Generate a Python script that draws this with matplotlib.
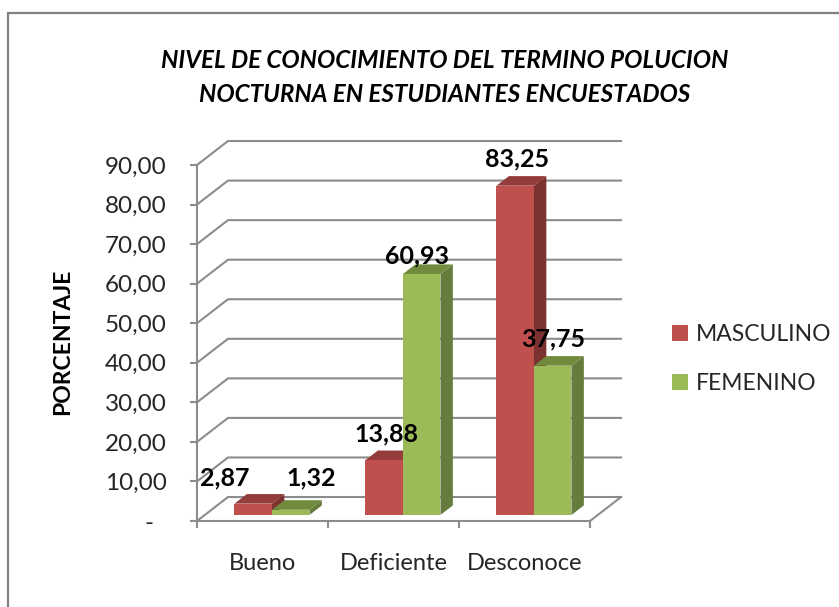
#!/usr/bin/env python3
import matplotlib
matplotlib.use("Agg")
import matplotlib.pyplot as plt
from matplotlib.lines import Line2D
from matplotlib.patches import Polygon, Rectangle

categories = ["Bueno", "Deficiente", "Desconoce"]
masculino = [2.87, 13.88, 83.25]
femenino = [1.32, 60.93, 37.75]
y_ticks = [0, 10, 20, 30, 40, 50, 60, 70, 80, 90]

W, H = 839, 607
GRAY = "#8c8c8c"
RED = ("#c0504d", "#943c3a", "#7b3230")  # front, top, side
GREEN = ("#9bbb59", "#708a3e", "#667c3c")

# depth of the fake 3D box, in data units (31 px right, 24 px up)
DX = 31 / 131
DY = 24 / 3.96
BAR_W = 37.5 / 131
D0, D1 = 0.25, 0.65

plt.rcParams["font.family"] = ["Lato", "DejaVu Sans"]

fig = plt.figure(figsize=(W / 100, H / 100), dpi=100)
ax = fig.add_axes([197 / W, 1 - 521 / H, 393 / W, 356 / H])
ax.set_xlim(0, 3)
ax.set_ylim(0, 90)


def proj(x, y, d):
    return (x + d * DX, y + d * DY)


# chart frame, only top and left edges are inside the picture
fig.add_artist(Line2D([8 / W, 8 / W, 1], [0, 1 - 13 / H, 1 - 13 / H], transform=fig.transFigure,
                      color="#808080", lw=1.6, solid_joinstyle="miter"))

# back wall and side wall grid
for v in y_ticks:
    ax.plot(*zip(proj(0, v, 0), proj(0, v, 1), proj(3, v, 1)), color=GRAY, lw=1.5,
            clip_on=False, zorder=1, solid_joinstyle="miter")
ax.plot(*zip(proj(3, 0, 0), proj(3, 0, 1)), color=GRAY, lw=1.5, clip_on=False, zorder=1)


def bar(x, v, cols):
    # one box: side, top, front
    side = [proj(x + BAR_W, 0, D0), proj(x + BAR_W, 0, D1), proj(x + BAR_W, v, D1), proj(x + BAR_W, v, D0)]
    top = [proj(x, v, D0), proj(x + BAR_W, v, D0), proj(x + BAR_W, v, D1), proj(x, v, D1)]
    front = [proj(x, 0, D0), proj(x + BAR_W, 0, D0), proj(x + BAR_W, v, D0), proj(x, v, D0)]
    for pts, c in ((side, cols[2]), (top, cols[1]), (front, cols[0])):
        ax.add_patch(Polygon(pts, closed=True, fc=c, ec="none", clip_on=False, zorder=2))


for i in range(3):
    left = i + 0.5 - BAR_W + 0.013
    bar(left, masculino[i], RED)
    bar(left + BAR_W, femenino[i], GREEN)

# data labels sit where the original chart had them, offset in pixels from the bar top
label_off = [(-28, 26), (20, 32), (2, 26), (-5, 18), (2, 27), (0, 27)]
vals = [v for pair in zip(masculino, femenino) for v in pair]
for k, v in enumerate(vals):
    i, s = divmod(k, 2)
    xc = i + 0.5 + 0.013 + (s - 0.5) * BAR_W
    ax.annotate("{:.2f}".format(v).replace(".", ","), xy=proj(xc, v, D0),
                xytext=label_off[k], textcoords="offset pixels", ha="center", va="center",
                fontsize=18, fontweight="bold", color="black", zorder=5, annotation_clip=False)

for s in ("top", "right"):
    ax.spines[s].set_visible(False)
for s in ("left", "bottom"):
    ax.spines[s].set_color(GRAY)
    ax.spines[s].set_linewidth(1.5)
    ax.spines[s].set_zorder(3)

ax.set_yticks(y_ticks)
ax.set_yticklabels(["-  " if v == 0 else "{:.2f}".format(v).replace(".", ",") for v in y_ticks],
                   fontsize=17.5, color="#262626")
ax.tick_params(axis="y", length=5, width=1.5, color=GRAY, pad=17)
ax.set_xticks([0, 1, 2, 3])
ax.set_xticklabels([])
ax.tick_params(axis="x", length=5, width=1.5, color=GRAY)
for i, c in enumerate(categories):
    ax.annotate(c, xy=(i + 0.5, 0), xytext=(0, -43), textcoords="offset pixels", ha="center",
                va="center", fontsize=17, color="#262626", annotation_clip=False)

fig.text(445 / W, 1 - 61 / H, "NIVEL DE CONOCIMIENTO DEL TERMINO POLUCION", ha="center", va="center",
         fontsize=17.5, fontweight="bold", fontstyle="italic")
fig.text(445 / W, 1 - 94 / H, "NOCTURNA EN ESTUDIANTES ENCUESTADOS", ha="center", va="center",
         fontsize=17.5, fontweight="bold", fontstyle="italic")
fig.text(63 / W, 1 - 342 / H, "PORCENTAJE", rotation=90, ha="center", va="center",
         fontsize=16.5, fontweight="bold")

handles = [Rectangle((0, 0), 1, 1, fc=RED[0]), Rectangle((0, 0), 1, 1, fc=GREEN[0])]
fig.legend(handles, ["MASCULINO", "FEMENINO"], loc="center left", bbox_to_anchor=(663 / W, 1 - 359 / H),
           frameon=False, fontsize=16.5, handlelength=0.68, handleheight=0.68, handletextpad=0.35,
           labelspacing=1.25, borderaxespad=0, labelcolor="#262626")

fig.savefig("out.png", dpi=100)
